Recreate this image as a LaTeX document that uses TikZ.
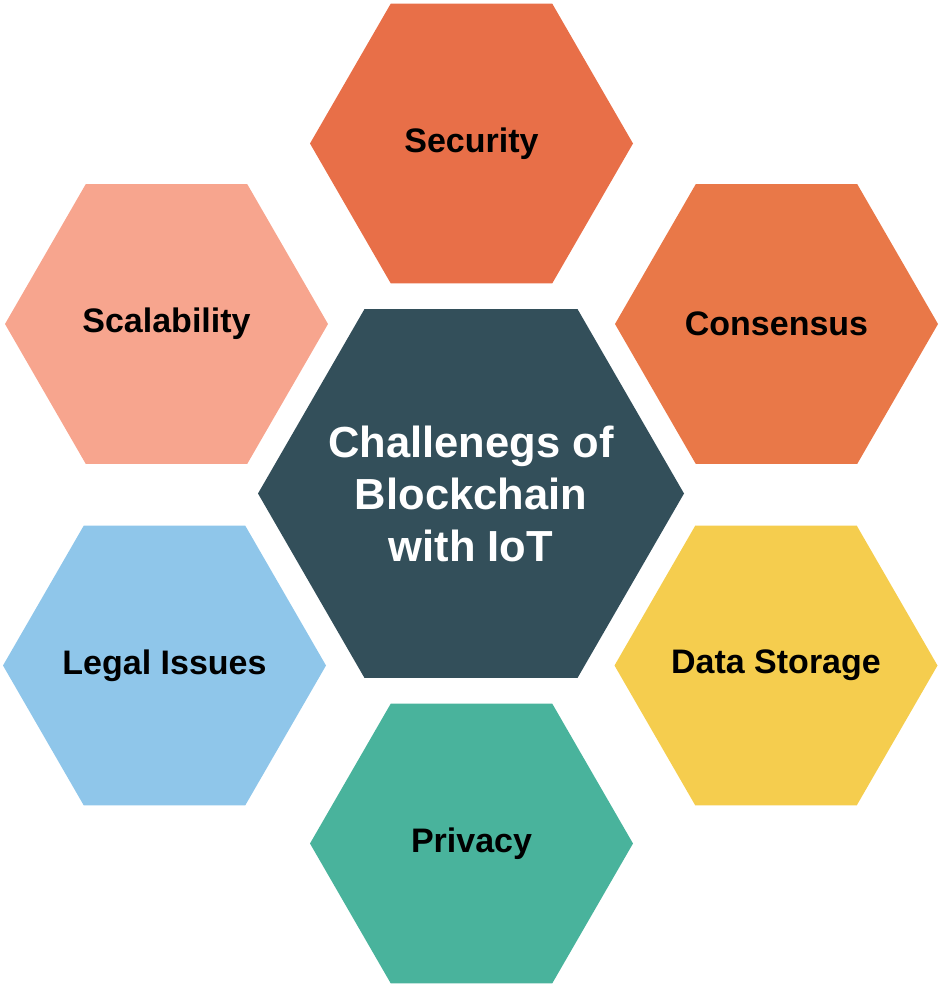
\documentclass[tikz,border=0pt]{standalone}
\usepackage{fontspec}
\setmainfont{Liberation Sans}
\usetikzlibrary{shapes.geometric}
\definecolor{secC}{HTML}{E86F48}
\definecolor{scaC}{HTML}{F7A58E}
\definecolor{conC}{HTML}{E97848}
\definecolor{midC}{HTML}{334F5A}
\definecolor{legC}{HTML}{8FC6EA}
\definecolor{datC}{HTML}{F5CD4E}
\definecolor{priC}{HTML}{49B39C}
\tikzset{
  hexbox/.style={regular polygon, regular polygon sides=6,
    inner sep=0pt, outer sep=0pt, minimum size=323pt, draw=none},
  hexmid/.style={hexbox, minimum size=426pt},
  hexlabel/.style={inner sep=0pt, font=\fontsize{34}{40}\selectfont\bfseries, text=black},
  midlabel/.style={inner sep=0pt, align=center, text=white,
    font=\fontsize{43.5}{52}\selectfont\bfseries}
}
\begin{document}
\begin{tikzpicture}[x=1pt,y=-1pt]
\useasboundingbox (0,0) rectangle (943,986);
\node[hexbox, fill=secC] (sec) at (471.5,143.5) {};
\node[hexbox, fill=scaC] (sca) at (166.5,324) {};
\node[hexbox, fill=conC] (con) at (776.5,324) {};
\node[hexmid, fill=midC] (mid) at (471,493.5) {};
\node[hexbox, fill=legC] (leg) at (164.5,665.5) {};
\node[hexbox, fill=datC] (dat) at (776,665.5) {};
\node[hexbox, fill=priC] (pri) at (471.5,843.5) {};
\node[hexlabel] (secT) at (sec.center) {Security};
\node[hexlabel] (scaT) at (sca.center) {Scalability};
\node[hexlabel] (conT) at (con.center) {Consensus};
\node[midlabel] (midT) at (mid.center) {Challenegs of\\Blockchain\\with IoT};
\node[hexlabel] (legT) at (leg.center) {Legal Issues};
\node[hexlabel] (datT) at (dat.center) {Data Storage};
\node[hexlabel] (priT) at (pri.center) {Privacy};
\end{tikzpicture}
\end{document}
